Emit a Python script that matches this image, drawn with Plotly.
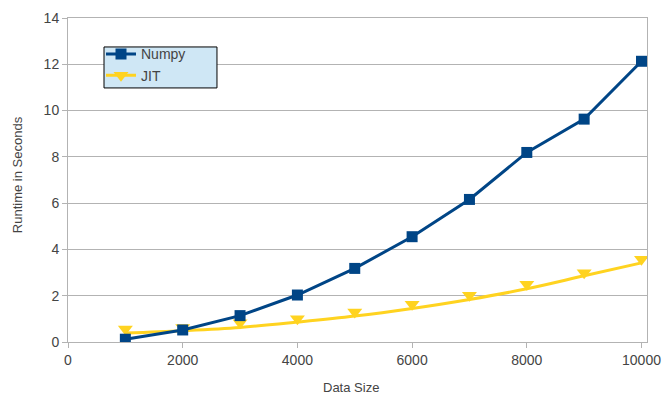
import plotly.graph_objects as go

data_size = [1000, 2000, 3000, 4000, 5000, 6000, 7000, 8000, 9000, 10000]
numpy_runtime = [0.12, 0.52, 1.14, 2.03, 3.18, 4.55, 6.16, 8.19, 9.63, 12.13]
jit_runtime = [0.56, 0.63, 0.83, 1.00, 1.30, 1.63, 2.02, 2.49, 2.99, 3.58]
jit_trend = [0.39, 0.49, 0.63, 0.86, 1.12, 1.45, 1.84, 2.30, 2.86, 3.42]

x_ticks = [0, 2000, 4000, 6000, 8000, 10000]
y_ticks = [0, 2, 4, 6, 8, 10, 12, 14]

BLUE = "#004586"
YELLOW = "#ffd320"
GRID = "#b3b3b3"
TXT = "#444444"
FONT = "Liberation Sans"

fig = go.Figure()

# JIT trend line
fig.add_trace(go.Scatter(x=data_size, y=jit_trend, mode="lines",
                         line=dict(color=YELLOW, width=3, shape="spline"),
                         showlegend=False, hoverinfo="skip"))
# JIT points
fig.add_trace(go.Scatter(x=data_size, y=jit_runtime, mode="markers",
                         marker=dict(symbol="triangle-down", size=13, color=YELLOW),
                         showlegend=False, name="JIT"))
# Numpy
fig.add_trace(go.Scatter(x=data_size, y=numpy_runtime, mode="lines+markers",
                         line=dict(color=BLUE, width=3),
                         marker=dict(symbol="square", size=11, color=BLUE),
                         showlegend=False, name="Numpy"))

# legend entries
fig.add_trace(go.Scatter(x=[None], y=[None], mode="lines+markers", name="Numpy",
                         line=dict(color=BLUE, width=3),
                         marker=dict(symbol="square", size=11, color=BLUE)))
fig.add_trace(go.Scatter(x=[None], y=[None], mode="lines+markers", name="JIT",
                         line=dict(color=YELLOW, width=3),
                         marker=dict(symbol="triangle-down", size=13, color=YELLOW)))

# legend box background
fig.add_shape(type="rect", xref="paper", yref="paper",
              x0=0.0622, x1=0.2573, y0=0.7841, y1=0.9106,
              fillcolor="#cfe7f5", line=dict(color="black", width=1), layer="above")

fig.update_layout(
    width=662, height=394,
    margin=dict(l=68, r=15, t=18, b=52),
    paper_bgcolor="white", plot_bgcolor="white",
    font=dict(family=FONT, size=14, color=TXT),
    legend=dict(x=0.057, y=0.937, xanchor="left", yanchor="top",
                bgcolor="rgba(0,0,0,0)", borderwidth=0,
                font=dict(size=14, color=TXT), tracegroupgap=0),
    showlegend=True,
    annotations=[
        dict(text="Data Size", xref="paper", yref="paper", x=0.4896, y=-0.1418,
             xanchor="center", yanchor="middle", showarrow=False,
             font=dict(size=13, color=TXT)),
        dict(text="Runtime in Seconds", xref="paper", yref="paper", x=-0.088, y=0.515,
             xanchor="center", yanchor="middle", showarrow=False, textangle=-90,
             font=dict(size=13, color=TXT)),
    ],
)
fig.update_xaxes(range=[0, 10096], tickvals=x_ticks, ticktext=[str(v) for v in x_ticks],
                 showgrid=False, zeroline=False, automargin=False,
                 showline=True, linecolor=GRID, linewidth=1, mirror=True,
                 ticks="outside", ticklen=5, tickcolor=GRID,
                 tickfont=dict(size=14, color=TXT))
fig.update_yaxes(range=[0, 14], tickvals=y_ticks, ticktext=[str(v) for v in y_ticks],
                 showgrid=True, gridcolor=GRID, gridwidth=1, zeroline=False, automargin=False,
                 showline=True, linecolor=GRID, linewidth=1, mirror=True,
                 ticks="outside", ticklen=5, tickcolor=GRID,
                 tickfont=dict(size=14, color=TXT))

fig.write_html("out.html", config={"displayModeBar": False},
               post_script="document.body.style.margin='0';document.body.style.overflow='hidden';")
